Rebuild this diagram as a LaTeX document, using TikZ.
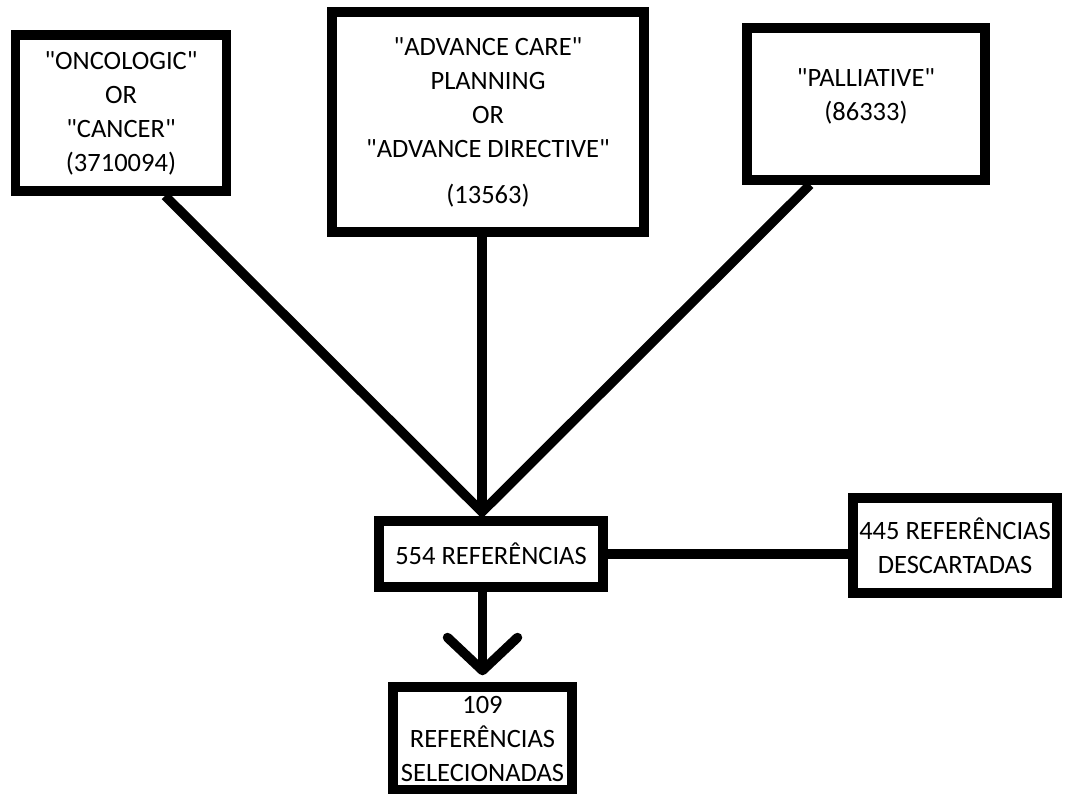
\documentclass[tikz,border=0pt]{standalone}
\usepackage{fontspec}
\setmainfont{Carlito}
\usepackage{tikz}
\usetikzlibrary{arrows.meta,positioning,calc}
\definecolor{ink}{HTML}{000000}
\newcommand{\qt}[1]{\textquotedbl#1\textquotedbl}
\tikzset{
  box/.style={draw=ink, line width=9.5pt, fill=white, inner sep=0pt, align=center, text=ink,
    font=\fontsize{26.5}{34}\selectfont},
  link/.style={draw=ink, line width=9.5pt},
  linkarrow/.style={link, -{Straight Barb[length=33pt, width=70pt, round]}, shorten >=7pt},
}
\begin{document}
\begin{tikzpicture}[x=1pt, y=-1pt]
  \useasboundingbox (0,0) rectangle (1067,794);
  \coordinate (join) at (482,512);
  % search terms
  \node[box, minimum width=211pt, minimum height=156pt] (onc) at (121,113) {\qt{ONCOLOGIC}\\OR\\\qt{CANCER}\\(3710094)};
  \node[box, minimum width=312pt, minimum height=220pt] (acp) at (488,122) {\qt{ADVANCE CARE}\\PLANNING\\OR\\\qt{ADVANCE DIRECTIVE}\\[12pt](13563)};
  \node[box, minimum width=238pt, minimum height=152pt] (pal) at (866,104) {\qt{PALLIATIVE}\\(86333)\\[-15pt]};
  % results
  \node[box, minimum width=224pt, minimum height=66pt] (ref) at (491,554) {554 REFERÊNCIAS};
  \node[box, minimum width=204pt, minimum height=95pt] (dis) at (955,545.5) {445 REFERÊNCIAS\\DESCARTADAS};
  \node[box, minimum width=179pt, minimum height=103pt] (sel) at (482.5,738.5) {109\\REFERÊNCIAS\\SELECIONADAS};
  % connectors
  \draw[link, line join=miter] ($(onc.south)+(44,0)$) -- (join) -- ($(pal.south)+(-56,0)$);
  \draw[link] (acp.south -| join) -- (join);
  \draw[link] (ref.east) -- (ref.east -| dis.west);
  \draw[linkarrow] (ref.south -| sel) -- (sel.north);
\end{tikzpicture}
\end{document}
